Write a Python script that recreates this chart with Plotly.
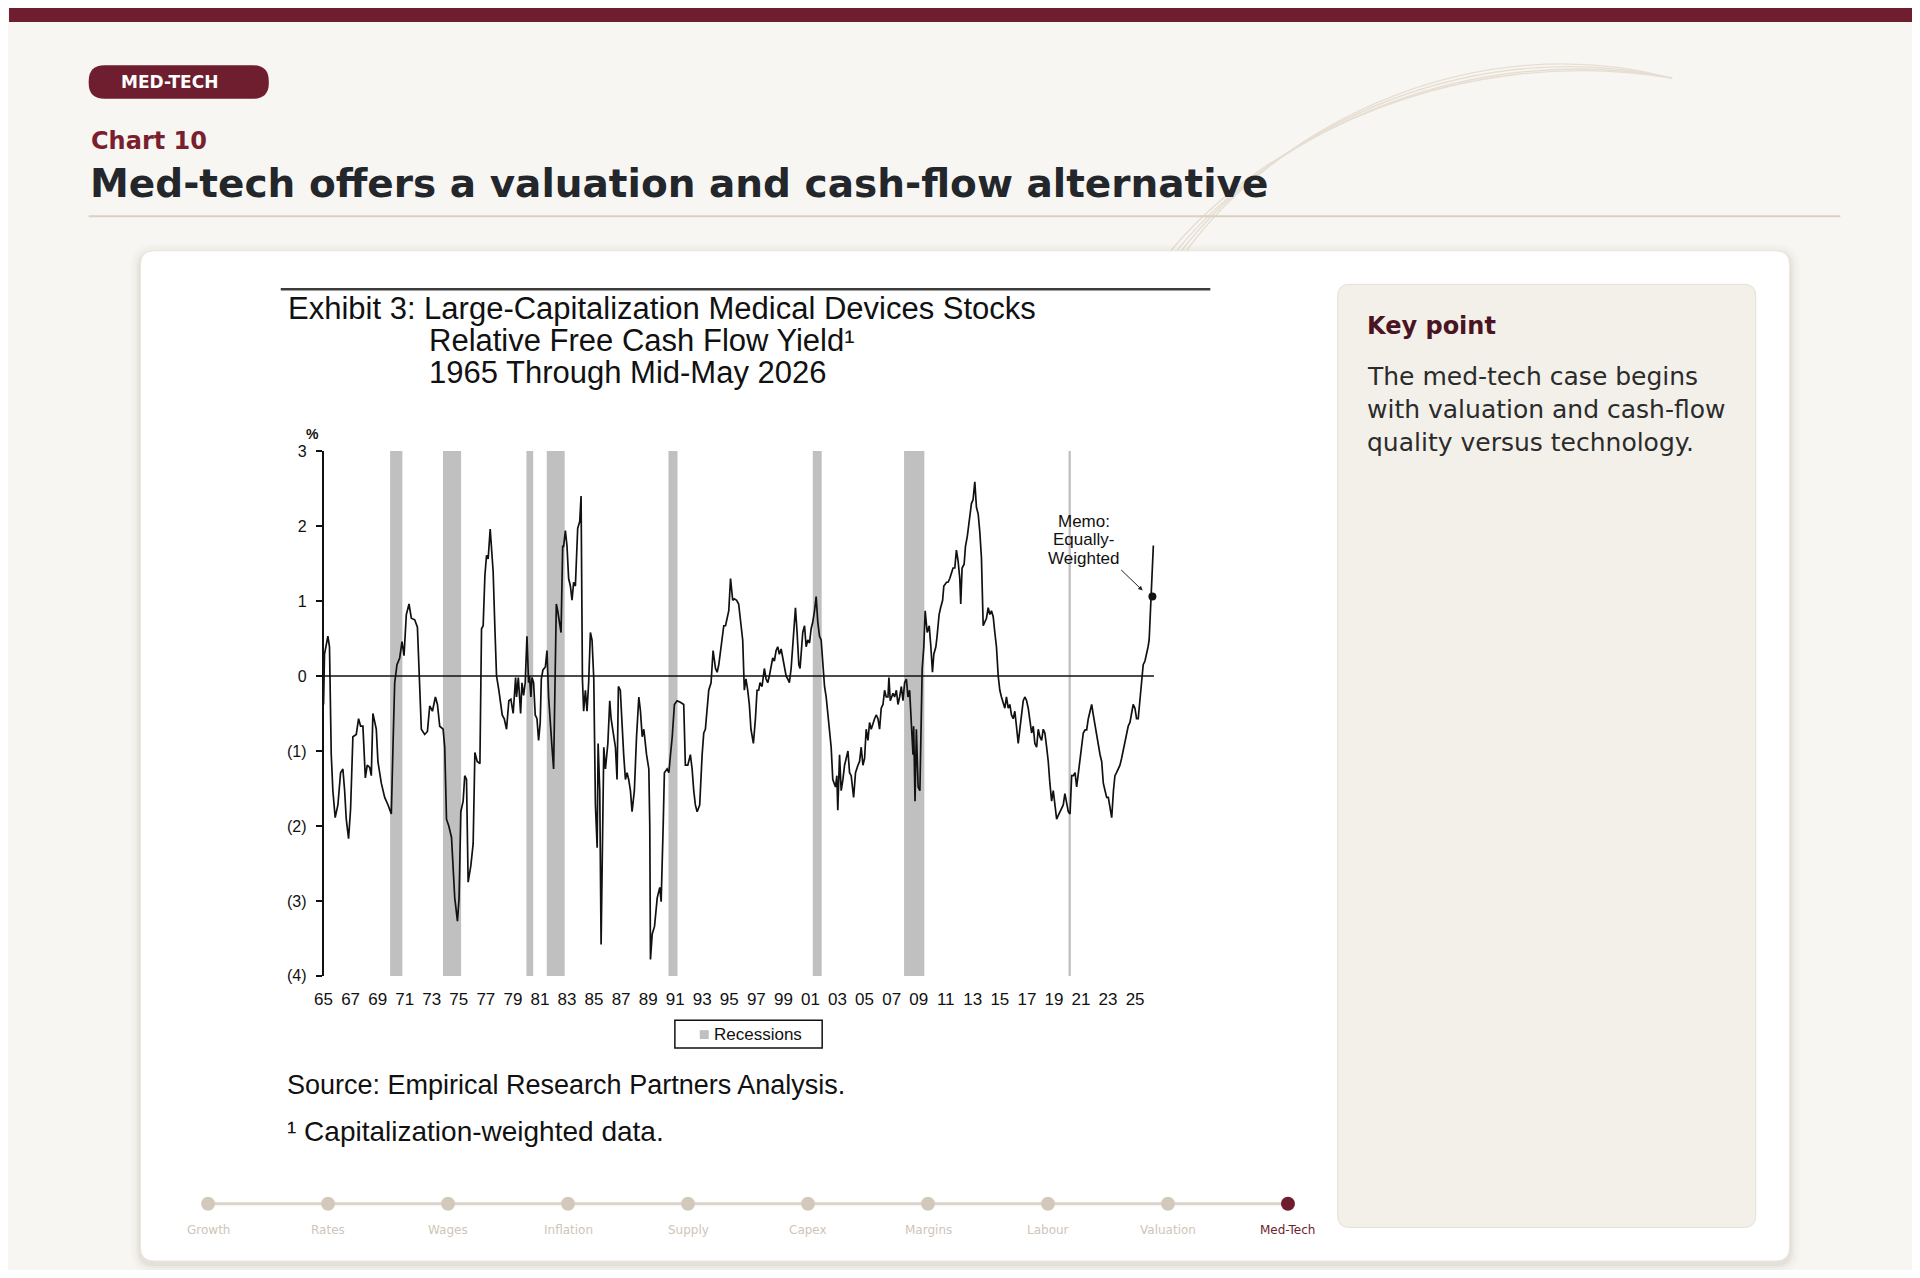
"""
Chart 10 - Med-tech relative free cash flow yield
"""
import plotly.graph_objects as go

dates = [
    1965.00, 1965.07, 1965.32, 1965.44, 1965.57, 1965.69, 1965.86, 1966.06, 1966.26, 1966.43,
    1966.56, 1966.68, 1966.85, 1967.00, 1967.17, 1967.42, 1967.59, 1967.74, 1967.91, 1968.09,
    1968.23, 1968.41, 1968.53, 1968.65, 1968.90, 1969.02, 1969.27, 1969.52, 1969.77, 1970.01,
    1970.14, 1970.26, 1970.43, 1970.63, 1970.80, 1970.95, 1971.12, 1971.32, 1971.49, 1971.74,
    1971.94, 1972.11, 1972.23, 1972.48, 1972.68, 1972.85, 1973.05, 1973.27, 1973.42, 1973.59,
    1973.84, 1973.96, 1974.09, 1974.26, 1974.46, 1974.70, 1974.90, 1975.02, 1975.15, 1975.32,
    1975.44, 1975.57, 1975.69, 1975.89, 1976.06, 1976.19, 1976.36, 1976.56, 1976.68, 1976.80,
    1976.93, 1977.05, 1977.17, 1977.32, 1977.42, 1977.54, 1977.67, 1977.79, 1977.96, 1978.21,
    1978.36, 1978.53, 1978.70, 1978.85, 1979.02, 1979.20, 1979.27, 1979.40, 1979.57,
    1979.67, 1979.79, 1979.91, 1980.04, 1980.09, 1980.16, 1980.23, 1980.33, 1980.41, 1980.53,
    1980.65, 1980.78, 1980.90, 1981.02, 1981.10, 1981.22, 1981.40, 1981.52, 1981.64, 1981.77,
    1981.89, 1982.01, 1982.14, 1982.21, 1982.31, 1982.46, 1982.56, 1982.68, 1982.75, 1982.88,
    1983.00, 1983.12, 1983.25, 1983.37, 1983.49, 1983.62, 1983.79, 1983.94, 1984.04, 1984.14,
    1984.23, 1984.36, 1984.48, 1984.60, 1984.73, 1984.85, 1984.98, 1985.10, 1985.23, 1985.30,
    1985.42, 1985.52, 1985.59, 1985.72, 1985.84, 1986.02, 1986.16, 1986.26, 1986.46, 1986.58,
    1986.70, 1986.80, 1986.94, 1987.07, 1987.19, 1987.32, 1987.44, 1987.56, 1987.69, 1987.81,
    1987.98, 1988.14, 1988.31, 1988.43, 1988.56, 1988.68, 1988.88, 1989.05, 1989.12, 1989.17,
    1989.30, 1989.47, 1989.67, 1989.86, 1989.96, 1990.11, 1990.20, 1990.40, 1990.53, 1990.65,
    1990.78, 1990.94, 1991.14, 1991.38, 1991.63, 1991.75, 1991.93, 1992.12, 1992.25, 1992.37,
    1992.49, 1992.62, 1992.81, 1992.99, 1993.11, 1993.23, 1993.36, 1993.48, 1993.65, 1993.80,
    1993.98, 1994.10, 1994.22, 1994.35, 1994.47, 1994.59, 1994.72, 1994.84, 1994.96, 1995.09,
    1995.25, 1995.37, 1995.54, 1995.69, 1995.86, 1995.99, 1996.11, 1996.23, 1996.36, 1996.48,
    1996.60, 1996.78, 1996.93, 1997.05, 1997.17, 1997.27, 1997.42, 1997.59, 1997.72, 1997.84,
    1997.96, 1998.09, 1998.21, 1998.33, 1998.46, 1998.58, 1998.70, 1998.83, 1998.95, 1999.07,
    1999.20, 1999.32, 1999.44, 1999.57, 1999.69, 1999.81, 1999.89, 2000.01, 2000.14, 2000.23,
    2000.31, 2000.43, 2000.56, 2000.68, 2000.80, 2000.93, 2001.05, 2001.17, 2001.30, 2001.42,
    2001.54, 2001.67, 2001.79, 2001.91, 2002.04, 2002.16, 2002.28, 2002.41, 2002.53, 2002.65,
    2002.85, 2002.95, 2003.02, 2003.15, 2003.27, 2003.40, 2003.52, 2003.64, 2003.77, 2003.89,
    2004.01, 2004.19, 2004.33, 2004.51, 2004.63, 2004.75, 2004.88, 2005.00, 2005.12, 2005.25,
    2005.37, 2005.49, 2005.62, 2005.74, 2005.86, 2005.99, 2006.11, 2006.23, 2006.36, 2006.48,
    2006.60, 2006.73, 2006.80, 2006.90, 2007.10, 2007.22, 2007.35, 2007.47, 2007.59, 2007.72,
    2007.84, 2007.96, 2008.09, 2008.21, 2008.33, 2008.46, 2008.58, 2008.63, 2008.73, 2008.83,
    2008.96, 2009.09, 2009.16, 2009.26, 2009.38, 2009.48, 2009.63, 2009.78, 2009.90, 2010.02,
    2010.12, 2010.27, 2010.36, 2010.51, 2010.62, 2010.77, 2010.86, 2011.06,
    2011.17, 2011.30, 2011.42, 2011.54, 2011.67, 2011.79, 2011.91, 2012.04, 2012.11, 2012.21,
    2012.36, 2012.46, 2012.60, 2012.78, 2012.90, 2013.02, 2013.15, 2013.27, 2013.40, 2013.52,
    2013.64, 2013.77, 2013.89, 2014.01, 2014.14, 2014.26, 2014.38, 2014.51, 2014.63, 2014.75,
    2014.88, 2015.00, 2015.12, 2015.25, 2015.37, 2015.49, 2015.62, 2015.74, 2015.86, 2015.99,
    2016.11, 2016.23, 2016.36, 2016.48, 2016.60, 2016.73, 2016.85, 2016.98, 2017.10, 2017.22,
    2017.35, 2017.47, 2017.59, 2017.72, 2017.84, 2017.96, 2018.09, 2018.21, 2018.33, 2018.46,
    2018.58, 2018.70, 2018.83, 2018.95, 2019.07, 2019.20, 2019.32, 2019.44, 2019.57, 2019.69,
    2019.81, 2019.94, 2020.06, 2020.19, 2020.31, 2020.43, 2020.56, 2020.68, 2020.80, 2020.93,
    2021.06, 2021.17, 2021.30, 2021.42, 2021.54, 2021.67, 2021.79, 2021.91, 2022.04, 2022.16,
    2022.28, 2022.41, 2022.53, 2022.65, 2022.78, 2022.90, 2023.02, 2023.15, 2023.27, 2023.40,
    2023.51, 2023.63, 2023.77, 2023.88, 2024.00, 2024.12, 2024.25, 2024.37, 2024.49, 2024.62,
    2024.74, 2024.86, 2024.99, 2025.11, 2025.23, 2025.36, 2025.48, 2025.60, 2025.73, 2025.85,
    2025.96, 2026.04, 2026.11, 2026.21, 2026.35,
]

rel_fcf_yield = [
    -0.38, 0.29, 0.53, 0.39, -1.05, -1.53, -1.89, -1.72, -1.29, -1.24,
    -1.53, -1.91, -2.17, -1.77, -0.81, -0.78, -0.57, -0.67, -0.67, -1.36,
    -1.19, -1.22, -1.33, -0.50, -0.71, -1.14, -1.43, -1.62, -1.72, -1.84,
    -0.90, -0.09, 0.15, 0.24, 0.46, 0.27, 0.82, 0.96, 0.77, 0.75,
    0.65, -0.09, -0.71, -0.78, -0.74, -0.40, -0.47, -0.28, -0.38, -0.67,
    -0.71, -0.95, -1.91, -2.00, -2.15, -2.96, -3.27, -2.96, -1.81, -1.67,
    -1.33, -1.38, -2.75, -2.53, -2.24, -1.02, -1.14, -1.17, 0.63, 0.67,
    1.34, 1.61, 1.56, 1.96, 1.63, 1.39, 0.63, 0.00, -0.19, -0.52,
    -0.57, -0.71, -0.33, -0.31, -0.50, -0.02, -0.28, -0.02, -0.50,
    -0.09, -0.26, -0.09, 0.53, 0.15, -0.09, 0.00, -0.28, -0.02, -0.09,
    -0.52, -0.57, -0.86, -0.62, -0.04, 0.08, 0.12, 0.34, -0.28, -0.57,
    -0.95, -1.24, -0.09, 0.96, 0.87, 0.67, 0.58, 1.73, 1.73, 1.94,
    1.73, 1.30, 1.20, 1.01, 1.25, 1.20, 1.97, 2.06, 2.40, -0.04,
    -0.47, -0.19, -0.47, -0.09, 0.58, 0.48, -0.04, -1.72, -2.29, -0.90,
    -1.53, -3.58, -2.63, -0.95, -1.24, -0.90, -0.33, -0.57, -0.81, -0.95,
    -1.38, -0.14, -0.19, -0.67, -1.05, -1.38, -1.29, -1.38, -1.53, -1.81,
    -1.53, -0.81, -0.28, -0.47, -0.81, -0.71, -1.05, -1.24, -2.00, -3.78,
    -3.44, -3.34, -2.96, -2.82, -3.01, -2.00, -1.29, -1.24, -1.29, -1.05,
    -0.81, -0.38, -0.33, -0.35, -0.38, -1.19, -1.19, -1.05, -1.24, -1.53,
    -1.72, -1.81, -1.72, -1.05, -0.76, -0.71, -0.38, -0.19, -0.09, 0.34,
    0.10, 0.05, 0.15, 0.34, 0.48, 0.67, 0.67, 0.77, 0.87, 1.30,
    1.01, 1.03, 1.01, 0.96, 0.67, 0.48, -0.19, -0.04, -0.19, -0.38,
    -0.71, -0.90, -0.57, -0.19, -0.19, -0.09, -0.14, 0.10, -0.04, -0.09,
    0.00, 0.15, 0.24, 0.20, 0.34, 0.39, 0.29, 0.36, 0.24, 0.15,
    0.00, -0.04, -0.09, 0.10, 0.39, 0.63, 0.91, 0.58, 0.15, 0.10,
    0.29, 0.58, 0.67, 0.39, 0.48, 0.44, 0.63, 0.72, 0.87, 1.06,
    0.72, 0.53, 0.48, 0.15, -0.14, -0.28, -0.52, -0.76, -0.95, -1.38,
    -1.48, -1.33, -1.79, -1.05, -1.53, -1.38, -1.19, -1.10, -1.00, -1.29,
    -1.33, -1.62, -1.29, -1.19, -1.14, -0.95, -1.19, -1.10, -0.71, -0.86,
    -0.62, -0.71, -0.62, -0.57, -0.52, -0.57, -0.71, -0.43, -0.38, -0.19,
    -0.28, -0.28, -0.02, -0.33, -0.23, -0.28, -0.19, -0.38, -0.28, -0.14,
    -0.33, -0.09, -0.04, -0.28, -0.19, -0.57, -1.05, -0.67, -1.67, -0.71,
    -1.48, -1.53, -0.95, 0.10, 0.39, 0.87, 0.58, 0.67, 0.39, 0.05,
    0.29, 0.39, 0.53, 0.82, 0.91, 1.01, 1.20, 1.25,
    1.25, 1.30, 1.37, 1.44, 1.44, 1.68, 1.54, 1.30, 0.96, 1.44,
    1.49, 1.73, 1.87, 2.16, 2.30, 2.35, 2.59, 2.25, 2.16, 1.92,
    1.58, 0.67, 0.72, 0.77, 0.91, 0.82, 0.87, 0.79, 0.58, 0.39,
    0.00, -0.19, -0.28, -0.38, -0.43, -0.28, -0.43, -0.38, -0.52, -0.57,
    -0.47, -0.67, -0.90, -0.71, -0.52, -0.33, -0.28, -0.33, -0.43, -0.57,
    -0.76, -0.67, -0.90, -0.95, -0.71, -0.81, -0.86, -0.71, -0.76, -0.95,
    -1.14, -1.43, -1.67, -1.53, -1.72, -1.91, -1.86, -1.81, -1.77, -1.72,
    -1.57, -1.72, -1.81, -1.84, -1.33, -1.33, -1.29, -1.48, -1.29, -1.14,
    -0.90, -0.76, -0.72, -0.72, -0.57, -0.47, -0.38, -0.52, -0.67, -0.76,
    -0.95, -1.05, -1.14, -1.43, -1.53, -1.62, -1.62, -1.77, -1.89, -1.53,
    -1.33, -1.29, -1.24, -1.19, -1.10, -1.00, -0.86, -0.76, -0.67, -0.62,
    -0.47, -0.38, -0.43, -0.57, -0.57, -0.28, -0.09, 0.15, 0.20, 0.29,
    0.39, 0.48, 0.77, 1.06, 1.74,
]

# NBER recessions (decimal years)
recession_start = [1969.92, 1973.83, 1980.00, 1981.50, 1990.50, 2001.17, 2007.92, 2020.08]
recession_end = [1970.83, 1975.17, 1980.50, 1982.83, 1991.17, 2001.83, 2009.42, 2020.25]

# memo point: equally-weighted
memo_year = 2026.28
memo_value = 1.06

x_tick_years = list(range(1965, 2026, 2))
x_tick_text = [str(y)[2:] for y in x_tick_years]
y_tick_vals = [3, 2, 1, 0, -1, -2, -3, -4]
y_tick_text = ["3", "2", "1", "0", "(1)", "(2)", "(3)", "(4)"]

nav_sections = ["Growth", "Rates", "Wages", "Inflation", "Supply",
                "Capex", "Margins", "Labour", "Valuation", "Med-Tech"]
active_section = "Med-Tech"

# ---- page geometry (window pixels) ----
W, H = 1920, 1278
BODY = 8             # default browser body margin around the plot div
FIG_W, FIG_H = W - 2 * BODY, H - 2 * BODY
PX_PER_YEAR = 13.59
X0_PX = 316          # 1965 on the page
Y_TOP, Y_BOT = 449, 981

WINE = "#6e1e2e"
BG = "#f8f6f2"
PAGE_FONT = "DejaVu Sans"
EXH_FONT = "Liberation Sans"


def px(x):
    return (x - BODY) / FIG_W


def py(y):
    return 1 - (y - BODY) / FIG_H


def rounded_box(x0, y0, x1, y1, r):
    pts = [
        ("M", [(x0 + r, y0)]), ("L", [(x1 - r, y0)]), ("Q", [(x1, y0), (x1, y0 + r)]),
        ("L", [(x1, y1 - r)]), ("Q", [(x1, y1), (x1 - r, y1)]),
        ("L", [(x0 + r, y1)]), ("Q", [(x0, y1), (x0, y1 - r)]),
        ("L", [(x0, y0 + r)]), ("Q", [(x0, y0), (x0 + r, y0)]),
    ]
    path = ""
    for cmd, coords in pts:
        path += cmd + " " + " ".join(f"{px(a):.5f},{py(b):.5f}" for a, b in coords) + " "
    return path + "Z"


shapes = []
# top bar
shapes.append(dict(type="rect", xref="paper", yref="paper", x0=px(0), x1=px(W), y0=py(14), y1=py(0),
                   fillcolor=WINE, line_width=0, layer="below"))
# decorative swoosh
for dx, dy in [(0, 0), (-5, 6), (-10, 12), (-16, 16)]:
    path = (f"M {px(1671)},{py(71)} C {px(1480 + dx)},{py(20 + dy)} "
            f"{px(1280 + dx)},{py(110 + dy)} {px(1180 + dx)},{py(250)}")
    shapes.append(dict(type="path", xref="paper", yref="paper", path=path,
                       line=dict(color="#e6ded2", width=1.4), layer="below"))
# pill
shapes.append(dict(type="path", xref="paper", yref="paper", path=rounded_box(80, 58, 261, 92, 16),
                   fillcolor=WINE, line_width=0, layer="below"))
# divider
shapes.append(dict(type="line", xref="paper", yref="paper", x0=px(80), x1=px(1840), y0=py(211), y1=py(211),
                   line=dict(color="#d9d0c3", width=2), layer="below"))
# card shadow + card
for grow, alpha in [(10, 0.015), (7, 0.025), (4, 0.035), (2, 0.05)]:
    shapes.append(dict(type="path", xref="paper", yref="paper",
                       path=rounded_box(132 - grow, 246 - grow + 3, 1789 + grow, 1270 + grow + 3, 14 + grow),
                       fillcolor=f"rgba(90,70,50,{alpha})", line_width=0, layer="below"))
shapes.append(dict(type="path", xref="paper", yref="paper", path=rounded_box(132, 246, 1789, 1270, 14),
                   fillcolor="#ffffff", line=dict(color="#ebe5dc", width=1), layer="below"))
# key point panel
shapes.append(dict(type="path", xref="paper", yref="paper", path=rounded_box(1335, 280, 1755, 1236, 12),
                   fillcolor="#f3f0ea", line=dict(color="#e6dfd3", width=1), layer="below"))
# exhibit top rule
shapes.append(dict(type="line", xref="paper", yref="paper", x0=px(273), x1=px(1207), y0=py(285), y1=py(285),
                   line=dict(color="#3c3c3c", width=2.5), layer="below"))
# recession bars
for s, e in zip(recession_start, recession_end):
    shapes.append(dict(type="rect", xref="x", yref="y", x0=s, x1=e, y0=-4, y1=3,
                       fillcolor="#c0c0c0", line_width=0, layer="below"))
# zero line
shapes.append(dict(type="line", xref="x", yref="y", x0=dates[0], x1=dates[-1] + 0.05, y0=0, y1=0,
                   line=dict(color="#111111", width=1.5)))
# legend box
shapes.append(dict(type="rect", xref="paper", yref="paper", x0=px(669), x1=px(817), y0=py(1054), y1=py(1026),
                   fillcolor="#ffffff", line=dict(color="#111111", width=1.5)))
shapes.append(dict(type="rect", xref="paper", yref="paper", x0=px(694), x1=px(703), y0=py(1045), y1=py(1036),
                   fillcolor="#c0c0c0", line_width=0))

fig = go.Figure()

# main series
fig.add_trace(go.Scatter(x=dates, y=rel_fcf_yield, mode="lines",
                         line=dict(color="#111111", width=1.7), hoverinfo="skip", showlegend=False))
fig.add_trace(go.Scatter(x=[memo_year], y=[memo_value], mode="markers",
                         marker=dict(color="#111111", size=8), hoverinfo="skip", showlegend=False))

# navigation strip
nav_idx = list(range(len(nav_sections)))
fig.add_trace(go.Scatter(x=nav_idx, y=[0] * len(nav_idx), mode="lines", xaxis="x2", yaxis="y2",
                         line=dict(color="#ddd4c8", width=3), hoverinfo="skip", showlegend=False,
                         cliponaxis=False))
fig.add_trace(go.Scatter(x=nav_idx, y=[0] * len(nav_idx), mode="markers", xaxis="x2", yaxis="y2",
                         marker=dict(size=14, color=[WINE if s == active_section else "#d3c9bb"
                                                     for s in nav_sections]),
                         hoverinfo="skip", showlegend=False, cliponaxis=False))

annotations = [
    dict(text="<b>MED-TECH</b>", x=px(161), y=py(75), font=dict(family=PAGE_FONT, size=17, color="#ffffff")),
    dict(text="<b>Chart 10</b>", x=px(80), y=py(135), xanchor="left",
         font=dict(family=PAGE_FONT, size=24, color="#7a1f2e")),
    dict(text="<b>Med-tech offers a valuation and cash-flow alternative</b>", x=px(79), y=py(178),
         xanchor="left", font=dict(family=PAGE_FONT, size=39, color="#23272b")),
    dict(text="<b>Key point</b>", x=px(1362), y=py(322), xanchor="left",
         font=dict(family=PAGE_FONT, size=24, color="#4a1422")),
    dict(text="Exhibit 3: Large-Capitalization Medical Devices Stocks", x=px(278), y=py(304), xanchor="left",
         font=dict(family=EXH_FONT, size=31, color="#111111")),
    dict(text="Relative Free Cash Flow Yield¹", x=px(420), y=py(337), xanchor="left",
         font=dict(family=EXH_FONT, size=31, color="#111111")),
    dict(text="1965 Through Mid-May 2026", x=px(420), y=py(369), xanchor="left",
         font=dict(family=EXH_FONT, size=31, color="#111111")),
    dict(text="<b>%</b>", x=px(305), y=py(432), font=dict(family=EXH_FONT, size=14, color="#111111")),
    dict(text="Recessions", x=px(706), y=py(1040), xanchor="left",
         font=dict(family=EXH_FONT, size=17, color="#111111")),
    dict(text="Source: Empirical Research Partners Analysis.", x=px(277), y=py(1092), xanchor="left",
         font=dict(family=EXH_FONT, size=27, color="#111111")),
    dict(text="¹ Capitalization-weighted data.", x=px(277), y=py(1139), xanchor="left",
         font=dict(family=EXH_FONT, size=28, color="#111111")),
]
for i, line in enumerate(["Memo:", "Equally-", "Weighted"]):
    annotations.append(dict(text=line, x=px(1080), y=py(520 + 19 * i),
                            font=dict(family=EXH_FONT, size=17, color="#111111")))
for i, line in enumerate(["The med-tech case begins", "with valuation and cash-flow",
                          "quality versus technology."]):
    annotations.append(dict(text=line, x=px(1362), y=py(373 + 33.5 * i), xanchor="left",
                            font=dict(family=PAGE_FONT, size=25, color="#2b2b2b")))
for a in annotations:
    a.update(xref="paper", yref="paper", showarrow=False, yanchor="middle")
    a.setdefault("xanchor", "center")

# arrow to the memo point
annotations.append(dict(xref="x", yref="y", x=2025.56, y=1.14, ax=-23, ay=-22, text="",
                        showarrow=True, arrowhead=2, arrowsize=0.9, arrowwidth=1, arrowcolor="#222222"))
# nav labels
for i, s in enumerate(nav_sections):
    annotations.append(dict(xref="x2", yref="y2", x=i, y=0, yshift=-26, text=s, showarrow=False,
                            font=dict(family=PAGE_FONT, size=12,
                                      color=WINE if s == active_section else "#cfc5b8")))

x_end = 2027.5
fig.update_layout(
    width=FIG_W, height=FIG_H,
    margin=dict(l=0, r=0, t=0, b=0),
    paper_bgcolor=BG,
    plot_bgcolor="rgba(0,0,0,0)",
    shapes=shapes,
    annotations=annotations,
    xaxis=dict(domain=[px(X0_PX), px(X0_PX + (x_end - 1965) * PX_PER_YEAR)], range=[1965, x_end],
               showgrid=False, zeroline=False, showline=False,
               tickvals=x_tick_years, ticktext=x_tick_text, ticks="outside", ticklen=8,
               tickcolor="rgba(0,0,0,0)",
               tickfont=dict(family=EXH_FONT, size=17, color="#111111")),
    yaxis=dict(domain=[py(Y_BOT), py(Y_TOP)], range=[-4, 3],
               showgrid=False, zeroline=False, showline=True, linecolor="#111111", linewidth=1.5,
               tickvals=y_tick_vals, ticktext=y_tick_text, ticks="outside", ticklen=6, tickwidth=1.5,
               tickcolor="#111111", ticklabelstandoff=6,
               tickfont=dict(family=EXH_FONT, size=16, color="#111111")),
    xaxis2=dict(domain=[px(200), px(1285)], range=[0, len(nav_sections) - 1], visible=False,
                anchor="y2", fixedrange=True),
    yaxis2=dict(domain=[py(1232), py(1192)], range=[-1, 1], visible=False, anchor="x2", fixedrange=True),
    hovermode=False,
)

fig.write_html("out.html", config={"displayModeBar": False})
